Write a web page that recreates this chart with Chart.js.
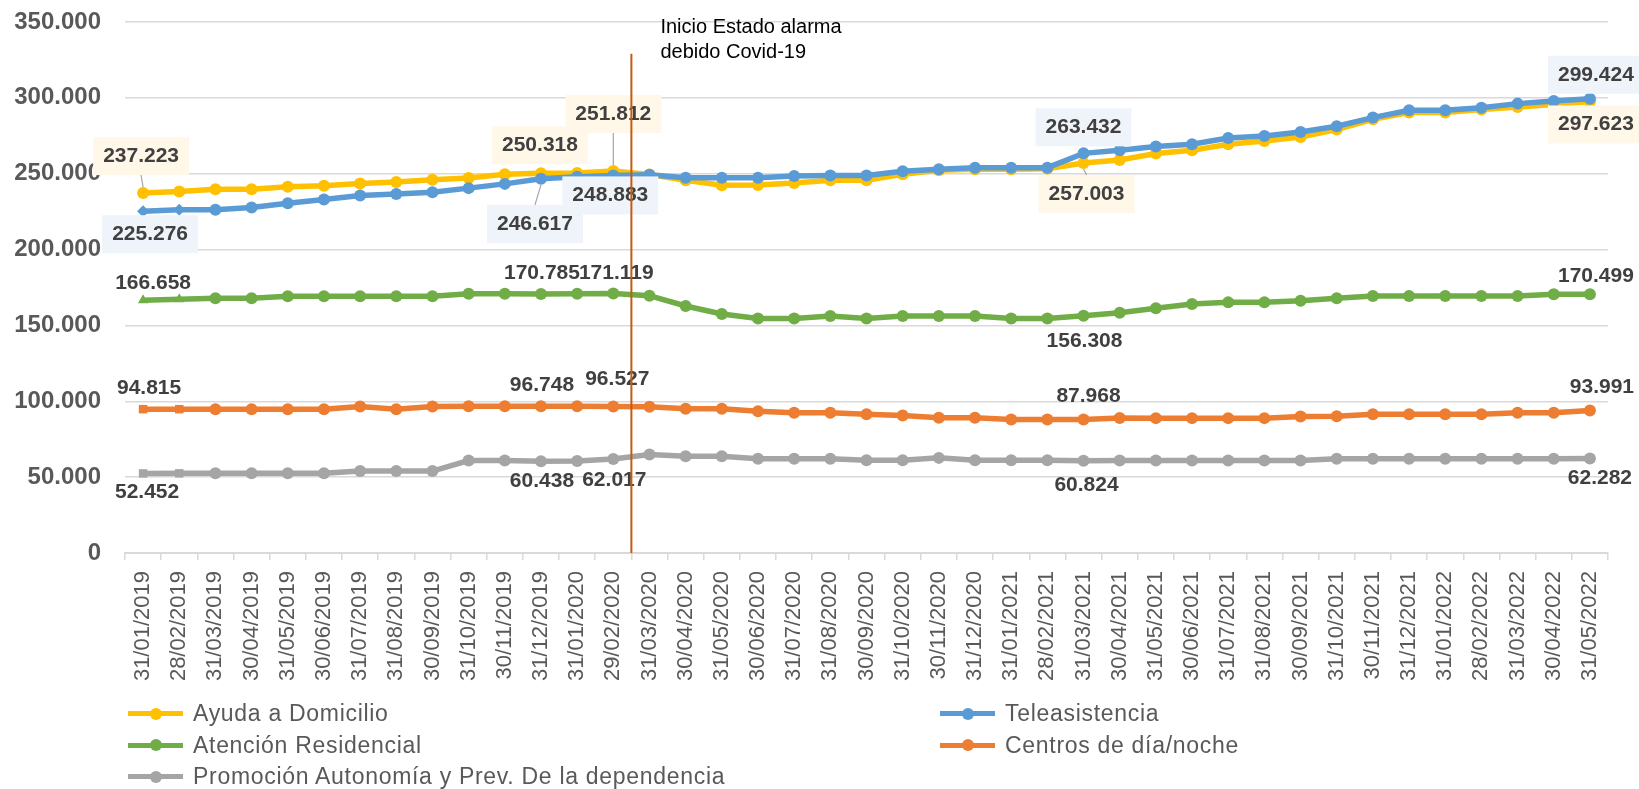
<!DOCTYPE html>
<html lang="es">
<head>
<meta charset="utf-8">
<title>Evolución de prestaciones</title>
<script src="https://cdn.jsdelivr.net/npm/chart.js@4.4.1/dist/chart.umd.min.js"></script>
<style>
  html, body { margin: 0; padding: 0; background: #fff; }
  #wrap { position: relative; width: 1639px; height: 789px; overflow: hidden; }
  #chart-box { position: absolute; left: 0; top: 0; width: 1639px; height: 700px; }
  #legend {
    position: absolute; left: 128px; top: 698px;
    display: grid; grid-template-columns: 812px auto;
  }
  .item {
    display: flex; align-items: center; height: 31.5px;
    font: 23px "Liberation Sans", Arial, sans-serif; color: #595959;
    letter-spacing: 0.7px; white-space: nowrap;
  }
  .mark { position: relative; width: 55px; height: 5px; margin-right: 10px; }
  .mark i { position: absolute; left: 21.5px; top: -3.5px; width: 12px; height: 12px; border-radius: 50%; }
</style>
</head>
<body>
<div id="wrap">
  <div id="chart-box"><canvas id="grafico"></canvas></div>
  <div id="legend"></div>
</div>
<script>
// Fechas de corte (fin de mes)
const fechas = [
  "31/01/2019", "28/02/2019", "31/03/2019", "30/04/2019", "31/05/2019", "30/06/2019",
  "31/07/2019", "31/08/2019", "30/09/2019", "31/10/2019", "30/11/2019", "31/12/2019",
  "31/01/2020", "29/02/2020", "31/03/2020", "30/04/2020", "31/05/2020", "30/06/2020",
  "31/07/2020", "31/08/2020", "30/09/2020", "31/10/2020", "30/11/2020", "31/12/2020",
  "31/01/2021", "28/02/2021", "31/03/2021", "30/04/2021", "31/05/2021", "30/06/2021",
  "31/07/2021", "31/08/2021", "30/09/2021", "31/10/2021", "30/11/2021", "31/12/2021",
  "31/01/2022", "28/02/2022", "31/03/2022", "30/04/2022", "31/05/2022"
];

const ayudaDomicilio = [
  237223, 238300, 239700, 239700, 241400, 242000, 243500, 244500, 246000, 247200,
  249700, 250318, 250400, 251812, 249500, 245700, 242400, 242600, 243900, 245700,
  245700, 249600, 252300, 252900, 252900, 253300, 257003, 259000, 263300, 265400,
  269400, 271600, 274200, 279100, 285900, 290300, 290300, 292300, 294000, 295600,
  297623
];

const teleasistencia = [
  225276, 226300, 226300, 227800, 230500, 233000, 235700, 236700, 237800, 240500,
  243300, 246617, 248000, 248883, 249300, 247300, 247300, 247300, 248500, 248800,
  248800, 251600, 252900, 254000, 254000, 254000, 263432, 265400, 268000, 269400,
  273500, 274900, 277500, 281300, 287000, 291800, 291800, 293500, 296200, 297900,
  299424
];

const atencionResidencial = [
  166658, 167300, 167900, 167900, 169200, 169200, 169200, 169200, 169200, 170900,
  170900, 170785, 170900, 171119, 169600, 162800, 157500, 154600, 154600, 156200,
  154600, 156200, 156200, 156200, 154600, 154600, 156308, 158400, 161300, 164100,
  165200, 165200, 166300, 167900, 169400, 169400, 169400, 169400, 169400, 170500,
  170499
];

const centrosDiaNoche = [
  94815, 94800, 94700, 94700, 94700, 94700, 96600, 94800, 96500, 96700,
  96700, 96748, 96700, 96527, 96400, 95100, 95100, 93500, 92500, 92500,
  91500, 90600, 89200, 89200, 88000, 88000, 87968, 89000, 88900, 88900,
  88900, 88900, 90000, 90200, 91400, 91500, 91500, 91500, 92400, 92400,
  93991
];

const promocionAutonomia = [
  52452, 52500, 52500, 52500, 52500, 52500, 54000, 54000, 54000, 60900,
  60900, 60438, 60600, 62017, 64900, 63800, 63800, 62200, 62200, 62200,
  61100, 61100, 62700, 61100, 61100, 61100, 60824, 60900, 60900, 60900,
  60900, 60900, 60900, 62200, 62200, 62200, 62200, 62200, 62200, 62200,
  62282
];

const ejeY = { min: 0, max: 350000, paso: 50000 };

// Inicio del estado de alarma: entre 29/02/2020 y 31/03/2020
const fechaAlarma = "31/03/2020";
const topeLineaAlarma = 329000;
const textoAlarma = ["Inicio Estado alarma", "debido Covid-19"];

const FUENTE = '"Liberation Sans", Arial, sans-serif';

// 237223 -> "237.223"
function miles(v) {
  return String(Math.round(v)).replace(/\B(?=(\d{3})+(?!\d))/g, ".");
}

// First two points keep the marker of the original series
function estilos(primero) {
  return fechas.map((f, i) => (i < 2 ? primero : "circle"));
}

const datasets = [
  {
    label: "Ayuda a Domicilio", data: ayudaDomicilio, color: "#FFC000", order: 1,
    pointStyle: estilos("circle"), fondoEtiqueta: "#FFF8E9",
    etiquetas: [
      { i: 0, dx: -2, dy: -37, guia: true },
      { i: 11, dx: -1, dy: -28 },
      { i: 13, dx: 0, dy: -57, guia: true },
      { i: 26, dx: 3, dy: 31, guia: true },
      { i: 40, dx: 6, dy: 23 }
    ]
  },
  {
    label: "Teleasistencia", data: teleasistencia, color: "#5B9BD5", order: 0,
    pointStyle: estilos("rectRot"), fondoEtiqueta: "#EFF3FA",
    etiquetas: [
      { i: 0, dx: 7, dy: 23 },
      { i: 11, dx: -6, dy: 45, guia: true },
      { i: 13, dx: -3, dy: 20 },
      { i: 26, dx: 0, dy: -26 },
      { i: 40, dx: 6, dy: -24 }
    ]
  },
  {
    label: "Atención Residencial", data: atencionResidencial, color: "#70AD47", order: 2,
    pointStyle: estilos("triangle"),
    etiquetas: [
      { i: 0, dx: 10, dy: -17 },
      { i: 11, dx: 1, dy: -21 },
      { i: 13, dx: 3, dy: -20 },
      { i: 26, dx: 1, dy: 25 },
      { i: 40, dx: 6, dy: -18 }
    ]
  },
  {
    label: "Centros de día/noche", data: centrosDiaNoche, color: "#ED7D31", order: 3,
    pointStyle: estilos("rect"),
    etiquetas: [
      { i: 0, dx: 6, dy: -21 },
      { i: 11, dx: 1, dy: -21 },
      { i: 13, dx: 4, dy: -27 },
      { i: 26, dx: 5, dy: -23 },
      { i: 40, dx: 12, dy: -23 }
    ]
  },
  {
    label: "Promoción Autonomía y Prev. De la dependencia", data: promocionAutonomia, color: "#A5A5A5", order: 4,
    pointStyle: estilos("rect"),
    etiquetas: [
      { i: 0, dx: 4, dy: 19 },
      { i: 11, dx: 1, dy: 20 },
      { i: 13, dx: 1, dy: 21 },
      { i: 26, dx: 3, dy: 24 },
      { i: 40, dx: 10, dy: 20 }
    ]
  }
].map(ds => ({
  ...ds,
  borderColor: ds.color,
  backgroundColor: ds.color,
  pointBackgroundColor: ds.color,
  pointBorderWidth: 0,
  pointRadius: 6,
  borderWidth: 5.5,
  tension: 0,
  fill: false
}));

// Value labels, with a light box and a leader line for some of them
const etiquetasPlugin = {
  id: "etiquetas",
  afterDatasetsDraw(chart) {
    const ctx = chart.ctx;
    ctx.save();
    ctx.font = "bold 21px " + FUENTE;
    ctx.textAlign = "center";
    ctx.textBaseline = "middle";
    chart.data.datasets.forEach((ds, di) => {
      const meta = chart.getDatasetMeta(di);
      (ds.etiquetas || []).forEach(et => {
        const pt = meta.data[et.i];
        const txt = miles(ds.data[et.i]);
        const cx = pt.x + et.dx;
        const cy = pt.y + et.dy;
        const w = ctx.measureText(txt).width;
        if (ds.fondoEtiqueta) {
          ctx.fillStyle = ds.fondoEtiqueta;
          ctx.fillRect(cx - w / 2 - 10, cy - 19, w + 20, 38);
        }
        if (et.guia) {
          const borde = et.dy < 0 ? cy + 19 : cy - 19;
          const finPunto = et.dy < 0 ? pt.y - 6 : pt.y + 6;
          ctx.strokeStyle = "#A6A6A6";
          ctx.lineWidth = 1.2;
          ctx.beginPath();
          ctx.moveTo(cx, borde);
          ctx.lineTo(pt.x, finPunto);
          ctx.stroke();
        }
        ctx.fillStyle = "#404040";
        ctx.fillText(txt, cx, cy);
      });
    });
    ctx.restore();
  }
};

// Vertical line for the start of the state of alarm
const alarmaPlugin = {
  id: "alarma",
  afterDraw(chart) {
    const { ctx, chartArea, scales } = chart;
    const idx = fechas.indexOf(fechaAlarma);
    const px = (scales.x.getPixelForValue(idx - 1) + scales.x.getPixelForValue(idx)) / 2;
    const top = scales.y.getPixelForValue(topeLineaAlarma);
    ctx.save();
    ctx.strokeStyle = "#C55A11";
    ctx.lineWidth = 2;
    ctx.beginPath();
    ctx.moveTo(px, top);
    ctx.lineTo(px, chartArea.bottom);
    ctx.stroke();
    ctx.fillStyle = "#000";
    ctx.font = "20px " + FUENTE;
    ctx.textAlign = "left";
    ctx.textBaseline = "middle";
    ctx.fillText(textoAlarma[0], px + 29, top - 26);
    ctx.fillText(textoAlarma[1], px + 29, top - 1);
    ctx.restore();
  }
};

Chart.defaults.font.family = FUENTE;

const grafico = new Chart(document.getElementById("grafico"), {
  type: "line",
  data: { labels: fechas, datasets: datasets },
  options: {
    responsive: true,
    maintainAspectRatio: false,
    animation: false,
    layout: { padding: { top: 22, right: 31, bottom: 0, left: 0 } },
    plugins: {
      legend: { display: false },
      tooltip: { enabled: false }
    },
    scales: {
      x: {
        offset: true,
        grid: {
          offset: true, drawOnChartArea: false, drawTicks: true,
          tickLength: 7, color: "#D9D9D9", lineWidth: 1.5
        },
        border: { display: true, color: "#D9D9D9", width: 2 },
        ticks: {
          autoSkip: false, maxRotation: 90, minRotation: 90,
          padding: 11, color: "#595959", font: { size: 22 }
        },
        afterFit(scale) { scale.height = 147; }
      },
      y: {
        min: ejeY.min, max: ejeY.max,
        grid: { color: "#D9D9D9", lineWidth: 1.5, drawTicks: false },
        border: { display: false },
        ticks: {
          stepSize: ejeY.paso, padding: 24, color: "#595959",
          font: { size: 24, weight: "bold" },
          callback: v => miles(v)
        },
        afterFit(scale) {
          scale.width = 125;
          // the tick padding should not push the plot area down
          scale.paddingTop = 14;
          scale.paddingBottom = 14;
        }
      }
    }
  },
  plugins: [etiquetasPlugin, alarmaPlugin]
});

// HTML legend in two columns
const legendBox = document.getElementById("legend");
grafico.data.datasets.forEach(ds => {
  const item = document.createElement("div");
  item.className = "item";
  const mark = document.createElement("span");
  mark.className = "mark";
  mark.style.background = ds.color;
  const dot = document.createElement("i");
  dot.style.background = ds.color;
  mark.appendChild(dot);
  item.appendChild(mark);
  item.append(ds.label);
  legendBox.appendChild(item);
});
</script>
</body>
</html>
